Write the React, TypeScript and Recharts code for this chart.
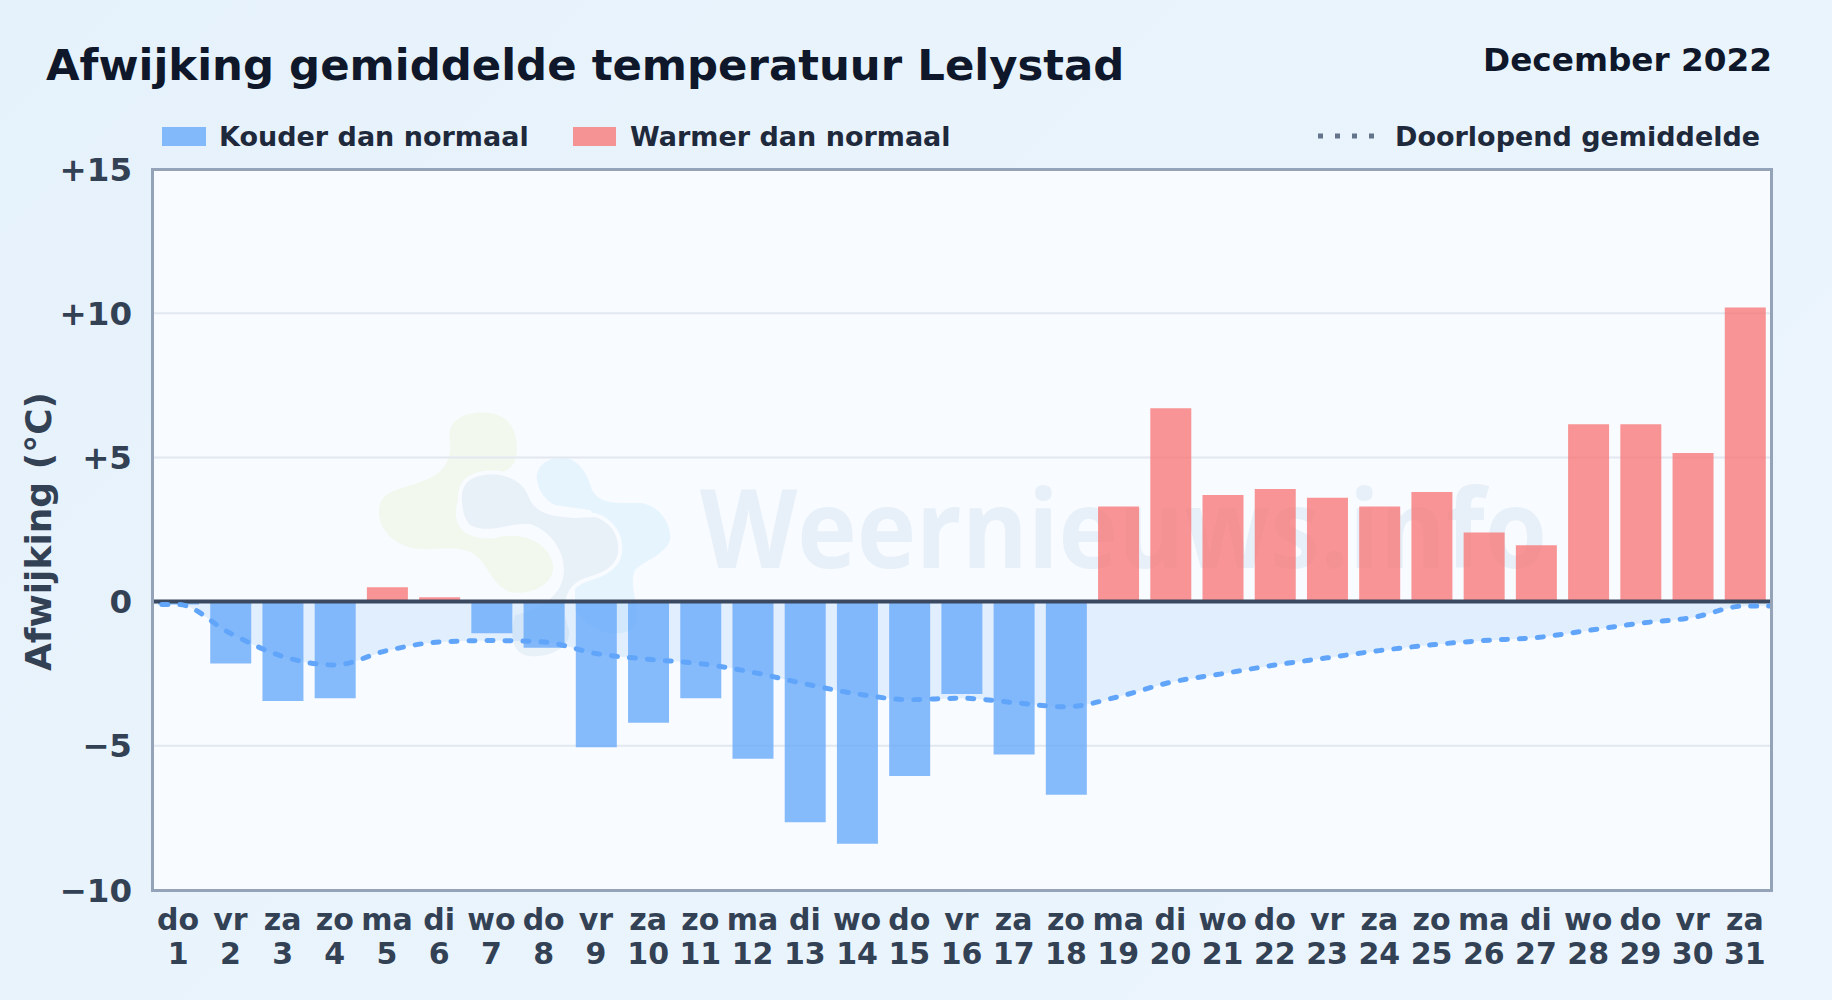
import { Area, Bar, CartesianGrid, ComposedChart, Line, ReferenceLine, XAxis, YAxis } from 'recharts';

const weekdays = ['do', 'vr', 'za', 'zo', 'ma', 'di', 'wo', 'do', 'vr', 'za', 'zo', 'ma', 'di', 'wo', 'do', 'vr', 'za', 'zo', 'ma', 'di', 'wo', 'do', 'vr', 'za', 'zo', 'ma', 'di', 'wo', 'do', 'vr', 'za'];
const days = [1, 2, 3, 4, 5, 6, 7, 8, 9, 10, 11, 12, 13, 14, 15, 16, 17, 18, 19, 20, 21, 22, 23, 24, 25, 26, 27, 28, 29, 30, 31];
const deviation = [-0.1, -2.15, -3.45, -3.35, 0.5, 0.15, -1.1, -1.6, -5.05, -4.2, -3.35, -5.45, -7.65, -8.4, -6.05, -3.2, -5.3, -6.7, 3.3, 6.7, 3.7, 3.9, 3.6, 3.3, 3.8, 2.4, 1.95, 6.15, 6.15, 5.15, 10.2];
const runningMean = [-0.1, -1.1, -1.9, -2.2, -1.7, -1.4, -1.35, -1.4, -1.8, -2.0, -2.15, -2.45, -2.85, -3.2, -3.4, -3.35, -3.5, -3.65, -3.3, -2.8, -2.5, -2.2, -1.95, -1.7, -1.5, -1.35, -1.25, -1.0, -0.75, -0.55, -0.15];
const yTicks = [-10, -5, 0, 5, 10, 15];

// the mean runs on flat to both plot edges, these two rows get clipped by the axis
const chartData = [
  { day: 0, mean: runningMean[0] },
  ...days.map((day, i) => ({
    day,
    mean: runningMean[i],
    cold: deviation[i] < 0 ? deviation[i] : null,
    warm: deviation[i] >= 0 ? deviation[i] : null,
  })),
  { day: 32, mean: runningMean[30] },
];

const FONT = '"DejaVu Sans", sans-serif';

const formatY = (v: number) => (v > 0 ? `+${v}` : v < 0 ? `\u2212${-v}` : '0');

const DayTick = ({ x, y, payload }: any) => (
  <text x={x} y={y} textAnchor="middle" fontFamily={FONT} fontWeight={700} fontSize={30} fill="#334155">
    <tspan x={x} y={y + 32}>{weekdays[payload.value - 1]}</tspan>
    <tspan x={x} y={y + 66}>{payload.value}</tspan>
  </text>
);

const Watermark = () => (
  <svg width={1832} height={1000} style={{ position: 'absolute', left: 0, top: 0 }}>
    <path fill="#f3f8ee" d="M450 440C445 418 470 410 490 413C512 416 520 436 516 458C513 470 500 474 488 477C468 482 455 495 456 515C457 535 478 540 495 538C525 530 550 545 553 565C555 585 530 596 510 592C490 585 488 560 470 552C455 545 440 550 420 549C395 547 378 530 379 510C380 490 400 490 420 482C440 475 452 465 450 440Z" />
    <path fill="#e6f4fe" d="M537 480C535 465 550 456 565 458C580 460 588 475 592 490C600 505 618 503 640 503C660 505 672 525 670 540C665 555 645 560 635 570C628 585 640 605 636 625C625 640 590 635 575 610L575 560L620 540L590 510L555 505C545 500 538 490 537 480Z" />
    <path fill="#e8f0f8" stroke="#f8fbff" strokeWidth={8} paintOrder="stroke" d="M462 497C462 478 480 473 500 475C515 478 525 485 530 500C535 510 548 517 565 517C575 519 585 517 595 517C610 522 620 535 618 553C615 570 595 575 585 578C565 585 560 605 569 630C572 648 548 658 530 656C515 655 508 640 515 615C540 610 564 595 564 570C564 550 550 530 530 524C510 522 490 535 470 525C464 518 462 510 462 497Z" />
    <text x={700} y={568} fontFamily='"Open Sans", sans-serif' fontSize={110} fontWeight={700} fill="#e7f0f8" textLength={847} lengthAdjust="spacingAndGlyphs">Weernieuws.info</text>
  </svg>
);

export default function App() {
  return (
    <div style={{ position: 'absolute', left: 0, top: 0, width: 1832, height: 1000, overflow: 'hidden', background: 'linear-gradient(135deg, #e6f2fb, #ecf5fe)', fontFamily: FONT, fontWeight: 700 }}>
      <div style={{ position: 'absolute', left: 152, top: 169, width: 1619, height: 721, background: '#f8fbff' }} />
      <Watermark />

      <div style={{ position: 'absolute', left: 46, top: 37, fontSize: 43.4, lineHeight: '56px', color: '#0f172a', whiteSpace: 'nowrap' }}>Afwijking gemiddelde temperatuur Lelystad</div>
      <div style={{ position: 'absolute', right: 60, top: 40, fontSize: 32.7, lineHeight: '40px', color: '#0f172a', whiteSpace: 'nowrap' }}>December 2022</div>

      <div style={{ position: 'absolute', left: 162, top: 127, width: 44, height: 19, background: '#60a5fa', opacity: 0.75 }} />
      <div style={{ position: 'absolute', left: 219, top: 120, fontSize: 27, lineHeight: '34px', color: '#1e293b', whiteSpace: 'nowrap' }}>Kouder dan normaal</div>
      <div style={{ position: 'absolute', left: 573, top: 127, width: 43, height: 19, background: '#f87171', opacity: 0.75 }} />
      <div style={{ position: 'absolute', left: 630, top: 120, fontSize: 27, lineHeight: '34px', color: '#1e293b', whiteSpace: 'nowrap' }}>Warmer dan normaal</div>
      <svg width={70} height={10} style={{ position: 'absolute', left: 1316, top: 131 }}>
        <line x1={2} x2={60} y1={5} y2={5} stroke="#64748b" strokeWidth={5} strokeDasharray="5 12" />
      </svg>
      <div style={{ position: 'absolute', left: 1395, top: 120, fontSize: 27, lineHeight: '34px', color: '#1e293b', whiteSpace: 'nowrap' }}>Doorlopend gemiddelde</div>

      <div style={{ position: 'absolute', left: 0, top: 0 }}>
        <ComposedChart width={1832} height={1000} data={chartData} margin={{ top: 169, right: 61, bottom: 0, left: 0 }}>
          <CartesianGrid vertical={false} stroke="#e2e8f0" strokeWidth={2} />
          <XAxis dataKey="day" type="number" domain={[0.5, 31.5]} allowDataOverflow ticks={days} interval={0} height={110} axisLine={false} tickLine={false} tick={<DayTick />} />
          <YAxis
            width={152}
            domain={[-10, 15]}
            ticks={yTicks}
            tickFormatter={formatY}
            axisLine={false}
            tickLine={false}
            tickSize={0}
            tickMargin={20}
            tick={{ fontFamily: FONT, fontWeight: 700, fontSize: 32.5, fill: '#334155' }}
            label={{ value: 'Afwijking (°C)', angle: -90, position: 'insideLeft', dx: 33, dy: 2, style: { fontFamily: FONT, fontWeight: 700, fontSize: 36, fill: '#334155', textAnchor: 'middle' } }}
          />
          <Area dataKey="mean" type="monotone" fill="#60a5fa" fillOpacity={0.15} stroke="none" isAnimationActive={false} />
          <Bar dataKey="cold" stackId="d" barSize={41} fill="#60a5fa" fillOpacity={0.75} isAnimationActive={false} />
          <Bar dataKey="warm" stackId="d" barSize={41} fill="#f87171" fillOpacity={0.75} isAnimationActive={false} />
          <ReferenceLine y={0} stroke="#3a495f" strokeWidth={4} />
          <Line dataKey="mean" type="monotone" stroke="#60a5fa" strokeWidth={5} strokeDasharray="6 12" strokeLinecap="round" dot={false} isAnimationActive={false} />
        </ComposedChart>
      </div>

      <div style={{ position: 'absolute', left: 150.5, top: 167.5, width: 1616, height: 718, border: '3px solid #94a3b8', pointerEvents: 'none' }} />
    </div>
  );
}
